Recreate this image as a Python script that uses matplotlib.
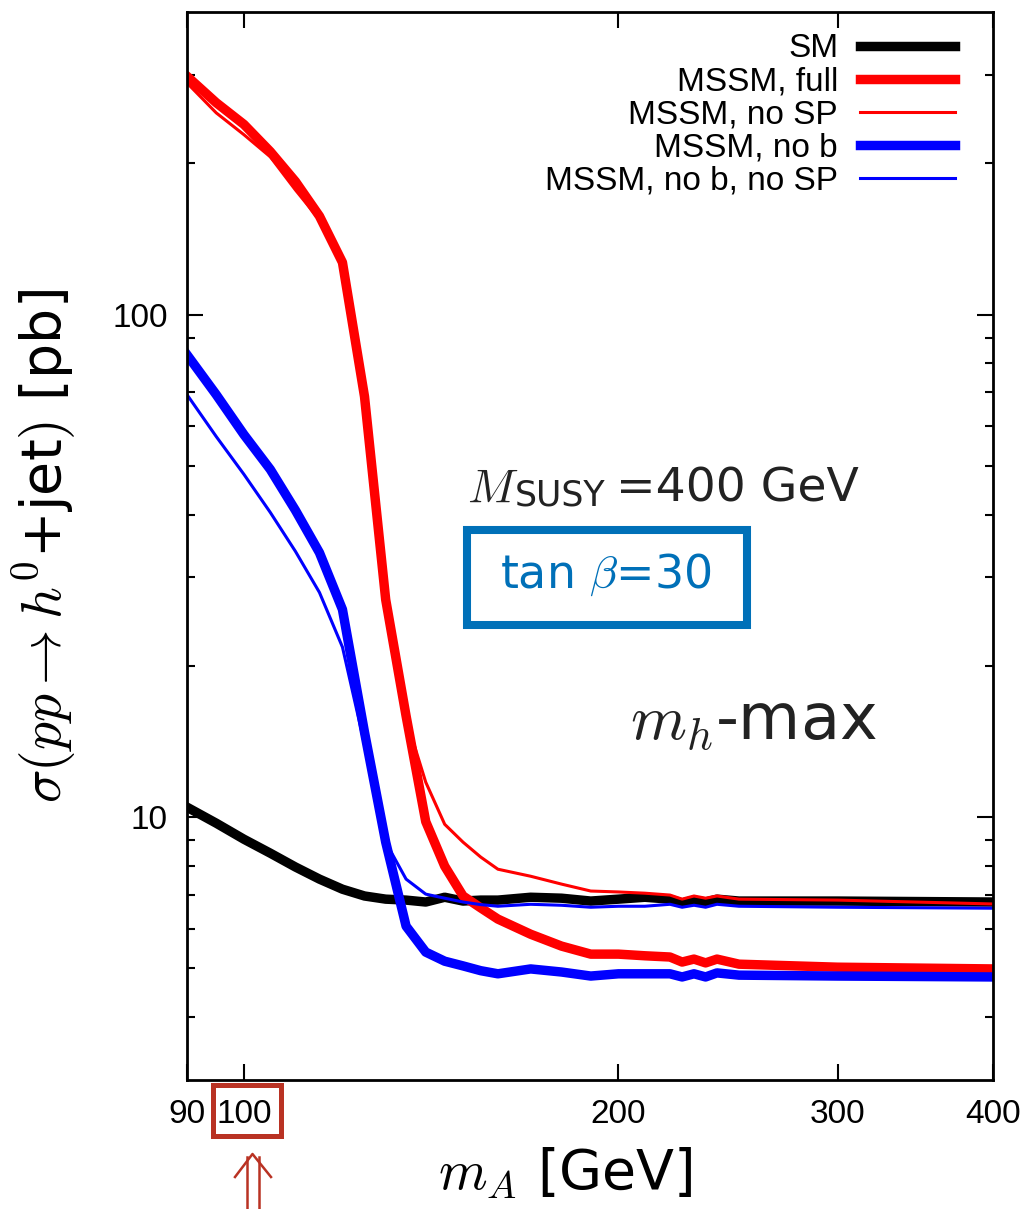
import matplotlib
matplotlib.use('Agg')
from matplotlib import pyplot as plt
from matplotlib.lines import Line2D
from matplotlib.patches import Rectangle
from matplotlib.ticker import NullFormatter, NullLocator

plt.rcParams['font.family'] = ['Liberation Sans', 'DejaVu Sans']
plt.rcParams['mathtext.fontset'] = 'cm'

# m_A grid [GeV]
m_a = [90, 95, 100, 105, 110, 115, 120, 125, 130, 135, 140, 145, 150, 155,
       160, 170, 180, 190, 200, 210, 220, 225, 230, 235, 240, 250, 300, 400]

# sigma(pp -> h0 + jet) [pb]
sm = [10.47, 9.73, 9.04, 8.48, 7.96, 7.53, 7.19, 6.97, 6.87, 6.84, 6.78, 6.93,
      6.81, 6.84, 6.84, 6.93, 6.90, 6.81, 6.87, 6.93, 6.87, 6.75, 6.84, 6.78,
      6.87, 6.81, 6.81, 6.78]
mssm_full = [298, 264, 239, 211, 184, 157, 127, 68.7, 27.1, 15.9, 9.8, 7.99,
             6.97, 6.6, 6.27, 5.85, 5.54, 5.34, 5.34, 5.30, 5.27, 5.15, 5.22,
             5.13, 5.22, 5.10, 5.03, 4.99]
mssm_no_sp = [289, 252, 228, 206, 177, 154.5, 127, 68.7, 27.1, 15.7, 11.74,
              9.68, 8.92, 8.33, 7.88, 7.63, 7.36, 7.13, 7.10, 7.06, 7.00, 6.87,
              6.97, 6.90, 6.97, 6.87, 6.84, 6.72]
mssm_no_b = [83.2, 69.3, 57.7, 49.2, 40.8, 33.6, 25.9, 14.76, 8.92, 6.07, 5.39,
             5.17, 5.06, 4.95, 4.88, 4.99, 4.92, 4.83, 4.88, 4.88, 4.88, 4.81,
             4.88, 4.81, 4.90, 4.85, 4.83, 4.81]
mssm_no_b_no_sp = [69.3, 57.2, 48.1, 40.4, 33.8, 28.0, 21.8, 13.97, 8.92, 7.53,
                   7.03, 6.90, 6.78, 6.70, 6.65, 6.71, 6.68, 6.62, 6.65, 6.65,
                   6.71, 6.62, 6.68, 6.62, 6.71, 6.65, 6.62, 6.59]

x_ticks = [90, 100, 200, 300, 400]
x_tick_labels = ['90', '100', '200', '300', '400']
y_ticks = [10, 100]
y_tick_labels = ['10', '100']
y_minor = [4, 5, 6, 7, 8, 9, 20, 30, 40, 50, 60, 70, 80, 90, 200, 300]

W, H = 1027, 1209
fig = plt.figure(figsize=(W / 100, H / 100), dpi=100)
ax = fig.add_axes([187 / W, 1 - 1080 / H, 806 / W, 1068 / H])

thick, thin = 6.8, 2.2
ax.plot(m_a, sm, color='black', lw=thick, label='SM')
ax.plot(m_a, mssm_full, color='#ff0000', lw=thick, label='MSSM, full')
ax.plot(m_a, mssm_no_sp, color='#ff0000', lw=thin, label='MSSM, no SP')
ax.plot(m_a, mssm_no_b, color='#0000ff', lw=thick, label='MSSM, no b')
ax.plot(m_a, mssm_no_b_no_sp, color='#0000ff', lw=thin, label='MSSM, no b, no SP')

ax.set_xscale('log')
ax.set_yscale('log')
ax.set_xlim(90, 400)
ax.set_ylim(3, 400)

ax.set_xticks(x_ticks, x_tick_labels)
ax.xaxis.set_minor_locator(NullLocator())
ax.set_yticks(y_ticks, y_tick_labels)
ax.set_yticks(y_minor, minor=True)
ax.yaxis.set_minor_formatter(NullFormatter())
ax.tick_params(which='both', direction='in', top=True, right=True,
               width=1.5, labelsize=24, pad=14)
ax.tick_params(which='major', length=11.5)
ax.tick_params(which='minor', length=6)
for s in ax.spines.values():
    s.set_linewidth(2)

ax.set_xlabel(r'$m_A$ [GeV]', fontsize=40, family='DejaVu Sans')
ax.xaxis.set_label_coords(0.47, -0.062)
ax.set_ylabel(r'$\sigma(pp\rightarrow h^0$+jet$)$ [pb]', fontsize=40,
              family='DejaVu Sans')
ax.yaxis.set_label_coords(-0.134, 0.5)

leg = ax.legend(loc='upper right', bbox_to_anchor=(0.953, 0.980),
                frameon=False, markerfirst=False, fontsize=24,
                handlelength=2.85, handletextpad=0.66, labelspacing=0.06,
                borderpad=0, borderaxespad=0)

# annotations (figure pixel positions)
def fx(px):
    return px / W


def fy(py):
    return 1 - py / H


dark = '#222222'
fig.text(fx(467), fy(502), r'$M$', fontsize=34, color=dark,
         ha='left', va='baseline')
fig.text(fx(515), fy(506), 'SUSY', fontsize=25, family='DejaVu Sans',
         color=dark, ha='left', va='baseline')
fig.text(fx(616), fy(502), '=400 GeV', fontsize=34, family='DejaVu Sans',
         color=dark, ha='left', va='baseline')

fig.text(fx(606), fy(588), r'tan $\beta$=30', fontsize=33,
         family='DejaVu Sans', color='#0070b8', ha='center', va='baseline')
fig.add_artist(Rectangle((fx(467), fy(625)), fx(747) - fx(467),
                         fy(530) - fy(625), transform=fig.transFigure,
                         fill=False, edgecolor='#0070b8', lw=5.8))
fig.text(fx(753), fy(740), r'$m_h$-max', fontsize=46,
         family='DejaVu Sans', color=dark, ha='center', va='baseline')

# highlight of the 100 GeV tick
red = '#b93223'
fig.add_artist(Rectangle((fx(212.5), fy(1135.5)), fx(280.5) - fx(212.5),
                         fy(1084.5) - fy(1135.5), transform=fig.transFigure,
                         fill=False, edgecolor=red, lw=3.6))
fig.add_artist(Line2D([fx(235), fx(252.5), fx(271)],
                      [fy(1177), fy(1154), fy(1177)],
                      transform=fig.transFigure, color=red, lw=1.8))
for sx in (247, 259):
    fig.add_artist(Line2D([fx(sx), fx(sx)], [fy(1157), fy(1209)],
                          transform=fig.transFigure, color=red, lw=1.8))

fig.savefig('out.png', dpi=100)
